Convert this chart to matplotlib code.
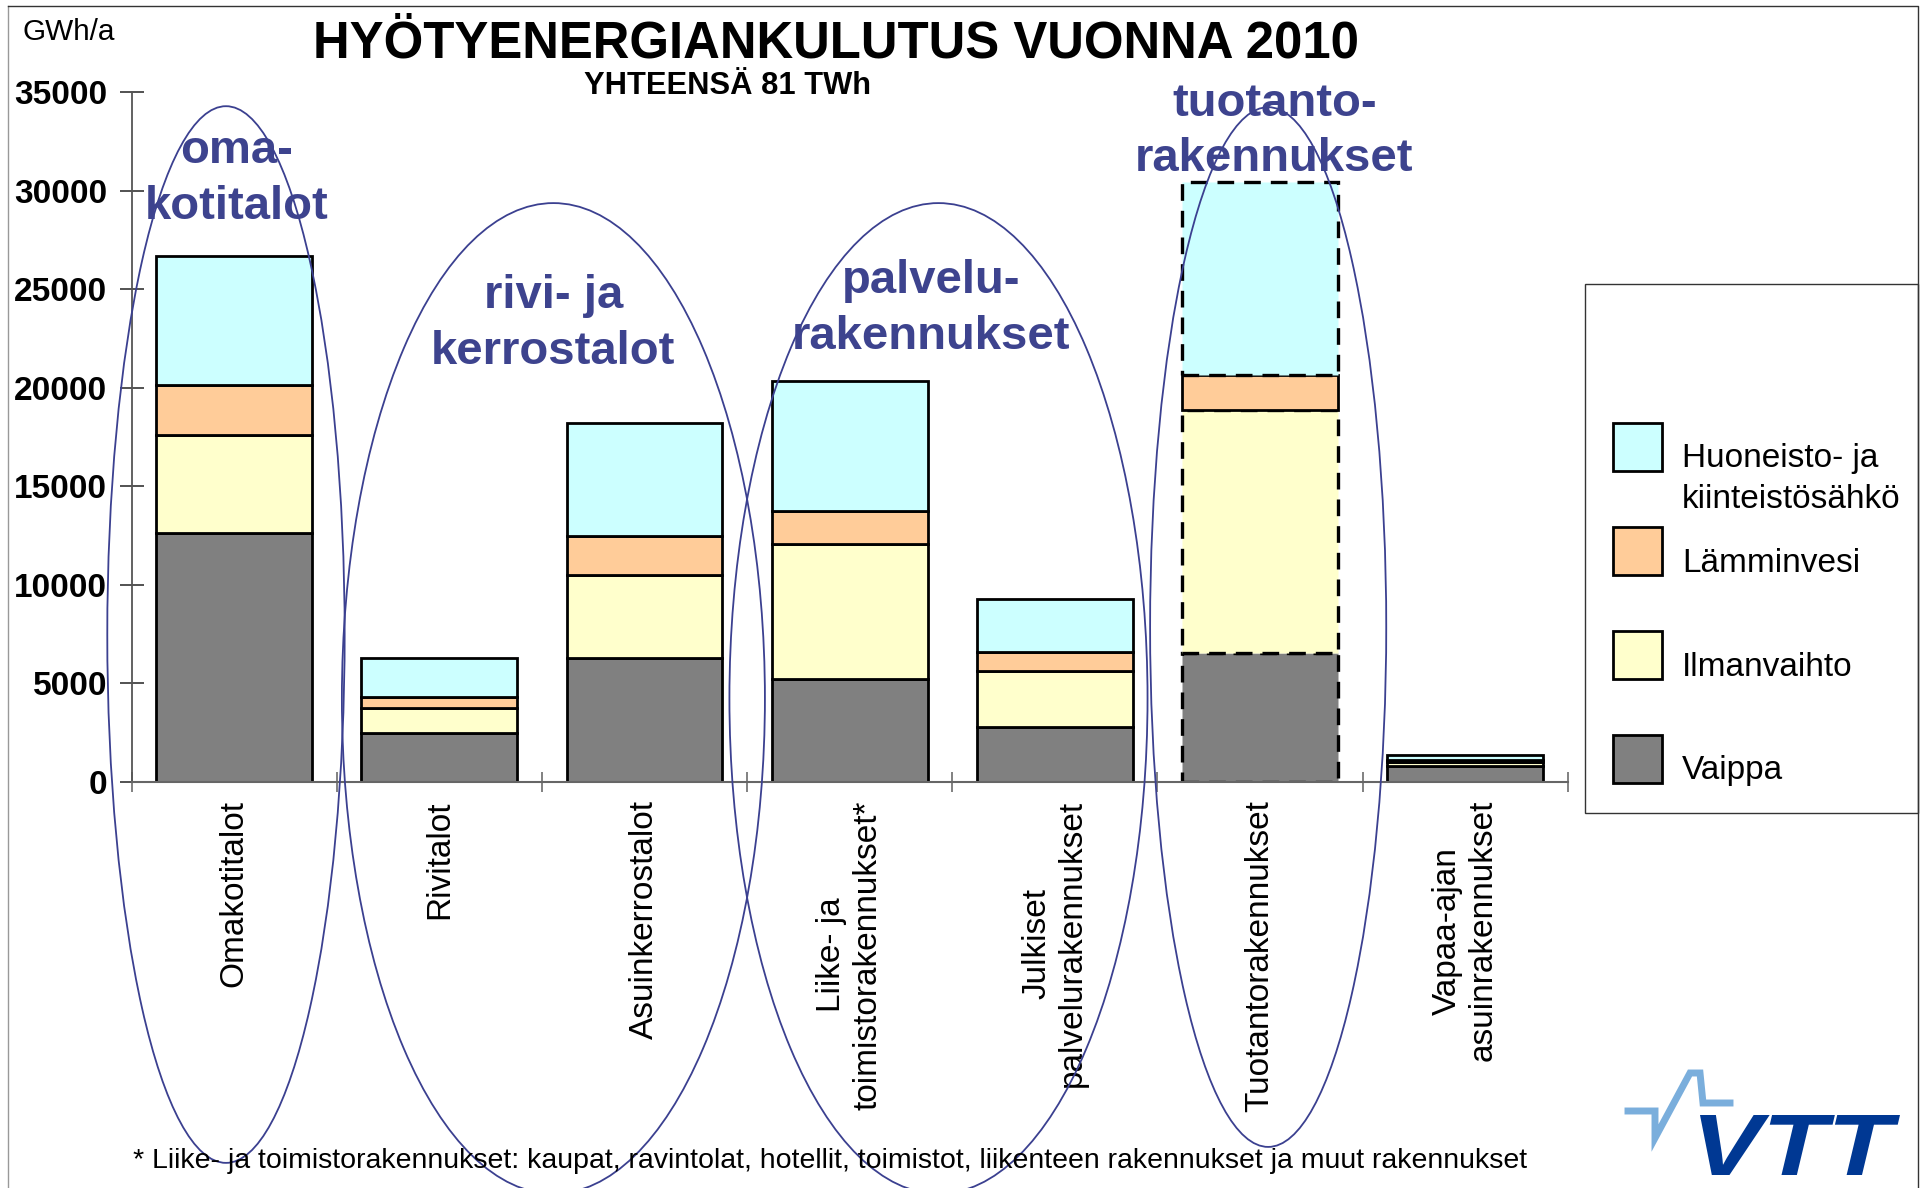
import matplotlib
matplotlib.use("Agg")
import matplotlib.pyplot as plt
import numpy as np
from matplotlib.patches import Ellipse, Rectangle, PathPatch
from matplotlib.textpath import TextPath
from matplotlib.font_manager import FontProperties
from matplotlib.transforms import Affine2D

plt.rcParams['font.family'] = ['Liberation Sans', 'DejaVu Sans']

# data, GWh/a
categories = ["Omakotitalot", "Rivitalot", "Asuinkerrostalot",
              "Liike- ja\ntoimistorakennukset*", "Julkiset\npalvelurakennukset",
              "Tuotantorakennukset", "Vapaa-ajan\nasuinrakennukset"]
vaippa = [12650, 2500, 6300, 5250, 2800, 6550, 820]
ilmanvaihto = [4950, 1250, 4200, 6800, 2850, 12300, 180]
lamminvesi = [2550, 550, 2000, 1700, 950, 1800, 120]
sahko = [6550, 2000, 5700, 6600, 2700, 9800, 230]

series = [vaippa, ilmanvaihto, lamminvesi, sahko]
series_names = ["Vaippa", "Ilmanvaihto", "Lämminvesi", "Huoneisto- ja\nkiinteistösähkö"]
series_colors = ["#808080", "#ffffcc", "#ffcc99", "#ccffff"]
estimated_category = "Tuotantorakennukset"
solid_series = "Lämminvesi"

yticks = np.arange(0, 35001, 5000)

# group ellipses (x centre, y centre, width, height in data units) and their labels
groups = ["oma-\nkotitalot", "rivi- ja\nkerrostalot", "palvelu-\nrakennukset", "tuotanto-\nrakennukset"]
group_ellipses = [(-0.04, 7480, 1.157, 53600),
                  (1.556, 4240, 2.062, 50250),
                  (3.433, 4240, 2.038, 50250),
                  (5.04, 7860, 1.151, 52740)]
group_text_pos = [(0.01, 30600), (1.556, 23240), (3.397, 23990), (5.07, 33000)]

W, H = 1928, 1188
fig = plt.figure(figsize=(W / 100, H / 100), dpi=100)
ax = fig.add_axes([131.6 / W, 1 - 782 / H, (1567.7 - 131.6) / W, 690 / H])

x = np.arange(len(categories))
bottom = np.zeros(len(categories))
for vals, name, color in zip(series, series_names, series_colors):
    bars = ax.bar(x, vals, 0.76, bottom=bottom, color=color, edgecolor='black',
                  linewidth=2, zorder=2)
    for cat, b in zip(categories, bars):
        if cat == estimated_category and name != solid_series:
            b.set_linestyle((0, (5, 3)))
            b.set_linewidth(2.4)
    bottom += np.array(vals)

ax.set_xlim(-0.5, len(categories) - 0.5)
ax.set_ylim(0, 35000)
for s in ['top', 'right']:
    ax.spines[s].set_visible(False)
ax.spines['left'].set_color('#555555')
ax.spines['left'].set_linewidth(1.3)
ax.spines['bottom'].set_color('#666666')
ax.spines['bottom'].set_linewidth(1.5)

ax.set_yticks(yticks)
ax.tick_params(axis='y', direction='inout', length=17, width=1.3, color='#444444',
               labelsize=24, pad=9)
for t in ax.get_yticklabels():
    t.set_fontweight('bold')

ax.set_xticks(np.arange(-0.5, len(categories), 1.0))
ax.set_xticklabels([])
ax.tick_params(axis='x', which='major', direction='inout', length=14, width=1.3,
               color='#777777')
ax.set_xticks(x, categories, minor=True)
ax.tick_params(axis='x', which='minor', length=0, pad=13, labelsize=24, labelrotation=90)
for t in ax.get_xticklabels(minor=True):
    t.set_multialignment('center')

for (ex, ey, ew, eh), label, (tx, ty) in zip(group_ellipses, groups, group_text_pos):
    ax.add_patch(Ellipse((ex, ey), ew, eh, fill=False, edgecolor='#3b4090',
                         lw=1.3, clip_on=False, zorder=4))
    ax.text(tx, ty, label, ha='center', va='center', fontsize=34, fontweight='bold',
            color='#3d438e', linespacing=1.34, zorder=5)

fig.text(836 / W, 1 - 44 / H, "HYÖTYENERGIANKULUTUS VUONNA 2010", ha='center',
         va='center', fontsize=36.6, fontweight='bold')
fig.text(727 / W, 1 - 86 / H, "YHTEENSÄ 81 TWh", ha='center', va='center',
         fontsize=22.2, fontweight='bold')
fig.text(22 / W, 1 - 32 / H, "GWh/a", ha='left', va='center', fontsize=21.4)
fig.text(133 / W, 1 - 1161 / H,
         "* Liike- ja toimistorakennukset: kaupat, ravintolat, hotellit, toimistot, "
         "liikenteen rakennukset ja muut rakennukset",
         ha='left', va='center', fontsize=20.5)

# overlay in pixel coords: slide frame, legend, logo
ov = fig.add_axes([0, 0, 1, 1], zorder=3)
ov.set_xlim(0, W)
ov.set_ylim(H, 0)
ov.set_axis_off()
ov.plot([8, 8], [H, 6], color='#999999', lw=1)
ov.plot([8, 1918, 1918], [6, 6, H], color='#333333', lw=1)

ov.add_patch(Rectangle((1585, 284), 333, 529, facecolor='white', edgecolor='#333333', lw=1))
for i, (name, color) in enumerate(zip(series_names[::-1], series_colors[::-1])):
    y0 = 423 + i * 104
    ov.add_patch(Rectangle((1613, y0), 49, 48, facecolor=color, edgecolor='black', lw=2))
    for j, line in enumerate(name.split("\n")):
        ov.text(1682, y0 + 24 + 12 + j * 41, line, ha='left', va='center', fontsize=24)

ov.plot([1628, 1655, 1655, 1690, 1700, 1703, 1730],
        [1111, 1111, 1138, 1073, 1073, 1103, 1103],
        color='#7aaedc', lw=5, solid_joinstyle='miter')
tp = TextPath((0, 0), "VTT", size=1,
              prop=FontProperties(family='Liberation Sans', weight='bold', style='italic'))
ext = tp.get_extents()
tr = Affine2D().translate(-ext.x0, -ext.y0).scale(200 / ext.width, -60 / ext.height).translate(1700, 1175)
ov.add_patch(PathPatch(tr.transform_path(tp), facecolor='#003893', edgecolor='none'))

fig.savefig("out.png", dpi=100)
